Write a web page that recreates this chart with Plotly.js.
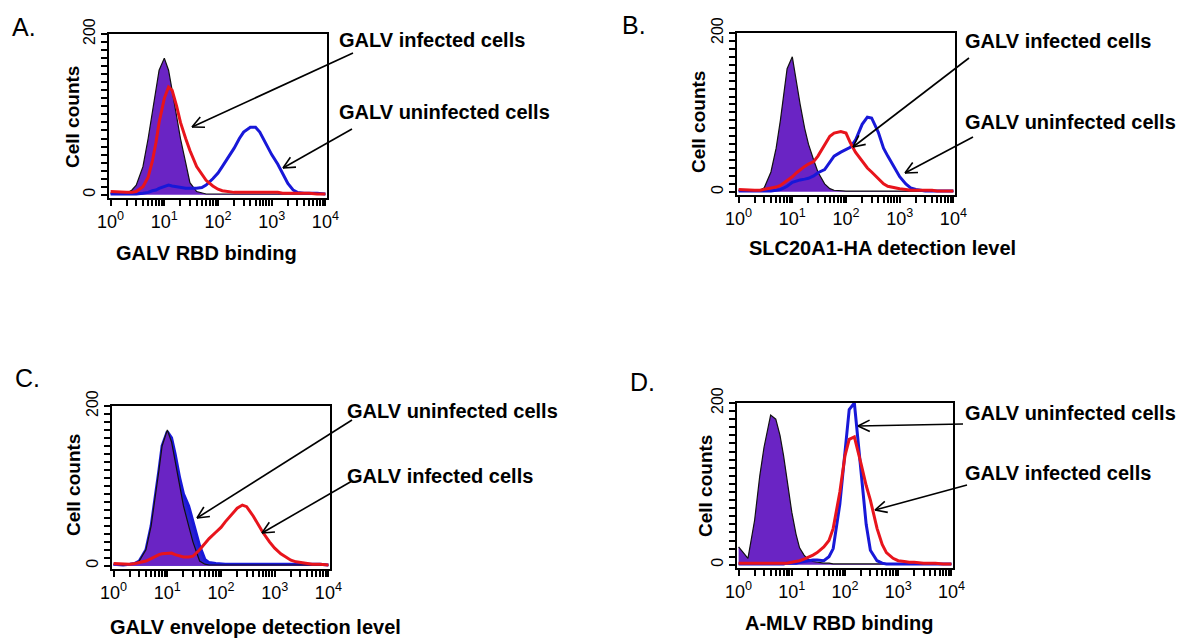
<!DOCTYPE html>
<html>
<head>
<meta charset="utf-8">
<script src="https://cdn.plot.ly/plotly-3.0.1.min.js"></script>
<style>
  html, body { margin: 0; padding: 0; background: #fff; }
  #chart { width: 1200px; height: 643px; }
</style>
</head>
<body>
<div id="chart"></div>
<script>
// fluorescence channel (x) for every histogram
const bins = [1, 1.5, 2, 2.5, 3, 4, 5, 6, 7, 8, 10, 12, 14, 17, 20, 25, 30, 40, 50, 60,
  80, 100, 120, 150, 200, 250, 300, 400, 500, 600, 800, 1000, 1300, 1600, 2000,
  2500, 3000, 4000, 5000, 7000, 10000];

// A. GALV RBD binding
const aControl = [2, 1, 2, 6, 12, 35, 70, 105, 135, 155, 170, 155, 130, 95, 70, 40, 15, 4, 2, 1,
  1, 1, 1, 1, 1, 1, 1, 1, 1, 1, 1, 1, 1, 1, 1, 1, 1, 1, 1, 1, 1];
const aUninfected = [1, 1, 1, 1, 1, 2, 3, 5, 6, 8, 10, 12, 11, 10, 9, 8, 8, 8, 9, 12,
  20, 27, 35, 45, 58, 70, 78, 84, 84, 78, 62, 50, 38, 26, 14, 6, 3, 2, 2, 2, 1];
const aInfected = [4, 3, 3, 3, 4, 10, 22, 42, 65, 90, 120, 134, 130, 110, 90, 70, 55, 35, 26, 18,
  11, 7, 5, 4, 3, 3, 3, 3, 3, 3, 3, 3, 3, 2, 2, 2, 2, 2, 2, 1, 1];

// B. SLC20A1-HA detection level
const bControl = [2, 1, 1, 2, 5, 25, 55, 90, 125, 155, 170, 135, 110, 80, 60, 40, 25, 10, 4, 2,
  1, 1, 1, 1, 1, 1, 1, 1, 1, 1, 1, 1, 1, 1, 1, 1, 1, 1, 1, 1, 1];
const bUninfected = [1, 1, 1, 1, 1, 1, 2, 3, 5, 7, 12, 14, 15, 16, 17, 20, 24, 28, 38, 45,
  50, 53, 56, 65, 85, 94, 93, 75, 55, 45, 30, 19, 10, 5, 3, 2, 1, 1, 1, 1, 1];
const bInfected = [3, 2, 2, 2, 3, 4, 6, 8, 11, 14, 19, 24, 28, 32, 35, 38, 45, 60, 70, 74,
  76, 74, 62, 50, 38, 30, 25, 16, 10, 7, 5, 4, 3, 2, 2, 2, 2, 2, 1, 1, 1];

// C. GALV envelope detection level
const cControl = [2, 1, 2, 3, 6, 20, 50, 85, 120, 150, 170, 155, 130, 100, 75, 50, 30, 6, 2, 1,
  1, 1, 1, 1, 1, 1, 1, 1, 1, 1, 1, 1, 1, 1, 1, 1, 1, 1, 1, 1, 1];
const cUninfected = [2, 1, 2, 3, 6, 20, 50, 85, 120, 150, 168, 160, 140, 110, 90, 75, 55, 25, 8, 4,
  3, 2, 2, 2, 2, 2, 2, 2, 2, 2, 2, 2, 2, 2, 2, 2, 2, 2, 2, 2, 1];
const cInfected = [3, 2, 2, 3, 4, 6, 9, 12, 14, 15, 16, 16, 14, 12, 11, 11, 12, 20, 28, 34,
  42, 48, 55, 63, 72, 76, 74, 62, 50, 42, 30, 22, 15, 11, 7, 5, 4, 3, 2, 2, 1];

// D. A-MLV RBD binding
const dControl = [22, 8, 55, 110, 145, 185, 180, 160, 135, 110, 65, 38, 21, 12, 7, 4, 3, 2, 2, 1,
  1, 1, 1, 1, 1, 1, 1, 1, 1, 1, 1, 1, 1, 1, 1, 1, 1, 1, 1, 1, 1];
const dUninfected = [1, 1, 1, 1, 1, 1, 1, 1, 1, 2, 2, 2, 3, 4, 5, 6, 6, 5, 10, 20,
  75, 140, 192, 200, 115, 50, 18, 5, 2, 1, 1, 1, 1, 1, 1, 1, 1, 1, 1, 1, 1];
const dInfected = [2, 2, 2, 2, 2, 2, 2, 2, 2, 2, 3, 4, 5, 7, 9, 12, 15, 22, 30, 45,
  90, 135, 155, 158, 125, 98, 80, 45, 25, 15, 8, 5, 4, 3, 3, 2, 2, 2, 2, 1, 1];

// axis ticks: labelled decades plus unlabelled 2..9 marks; counts every 10
const xTickVals = [];
const xTickText = [];
[1, 10, 100, 1000, 10000].forEach((d, e) => {
  xTickVals.push(d);
  xTickText.push("10<sup>" + e + "</sup>");
  if (d < 10000) for (let k = 2; k <= 9; k++) { xTickVals.push(k * d); xTickText.push(""); }
});
const yTickVals = [];
const yTickText = [];
for (let v = 0; v <= 200; v += 10) { yTickVals.push(v); yTickText.push(v === 0 || v === 200 ? String(v) : ""); }

const FONT = "Liberation Sans, Arial, sans-serif";
const PURPLE = "#6a24c4";
const BLUE = "#1818d8";
const RED = "#e8141c";
const W = 1200, H = 643;

// panels: box in pixels (left, right, top, bottom)
const panels = [
  { box: [109, 327, 34, 198], control: aControl, uninf: aUninfected, inf: aInfected },
  { box: [737, 955, 33, 195], control: bControl, uninf: bUninfected, inf: bInfected },
  { box: [112, 330, 406, 569], control: cControl, uninf: cUninfected, inf: cInfected, blueFill: true },
  { box: [737, 953, 403, 568], control: dControl, uninf: dUninfected, inf: dInfected },
];

const traces = [];
const layout = {
  width: W, height: H,
  margin: { l: 0, r: 0, t: 0, b: 0 },
  paper_bgcolor: "#fff", plot_bgcolor: "#fff",
  showlegend: false,
  font: { family: FONT, color: "#000" },
  annotations: [], shapes: [],
};

panels.forEach((p, i) => {
  const n = i + 1;
  const xa = n === 1 ? "x" : "x" + n;
  const ya = n === 1 ? "y" : "y" + n;

  const fillBlue = {
    x: bins, y: p.uninf, xaxis: xa, yaxis: ya, type: "scatter", mode: "lines",
    line: { color: BLUE, width: 3 }, fill: "tozeroy", fillcolor: "#2a20d0",
  };
  const purple = {
    x: bins, y: p.control, xaxis: xa, yaxis: ya, type: "scatter", mode: "lines",
    line: { color: "#111", width: 1.2 }, fill: "tozeroy", fillcolor: PURPLE,
  };
  const blue = {
    x: bins, y: p.uninf, xaxis: xa, yaxis: ya, type: "scatter", mode: "lines",
    line: { color: BLUE, width: 3 },
  };
  const red = {
    x: bins, y: p.inf, xaxis: xa, yaxis: ya, type: "scatter", mode: "lines",
    line: { color: RED, width: 3 },
  };
  if (p.blueFill) traces.push(fillBlue, purple, red);
  else traces.push(purple, blue, red);

  const [l, r, t, b] = p.box;
  layout["xaxis" + (n === 1 ? "" : n)] = {
    type: "log", range: [-0.03, 4.03], domain: [l / W, r / W], anchor: ya,
    tickmode: "array", tickvals: xTickVals, ticktext: xTickText,
    ticks: "outside", ticklen: 6, tickwidth: 2, tickcolor: "#000",
    showline: true, linewidth: 2, linecolor: "#000", mirror: true,
    showgrid: false, zeroline: false,
    tickfont: { family: FONT, size: 18, color: "#000" },
  };
  layout["yaxis" + (n === 1 ? "" : n)] = {
    range: [-4, 200], domain: [1 - b / H, 1 - t / H], anchor: xa,
    tickmode: "array", tickvals: yTickVals, ticktext: yTickText, tickangle: -90,
    ticks: "outside", ticklen: 6, tickwidth: 2, tickcolor: "#000",
    showline: true, linewidth: 2, linecolor: "#000", mirror: true,
    showgrid: false, zeroline: false,
    tickfont: { family: FONT, size: 16, color: "#000" },
  };
});

// text in pixel positions
function txt(text, x, y, opts) {
  layout.annotations.push(Object.assign({
    text, x: x / W, y: 1 - y / H, xref: "paper", yref: "paper",
    showarrow: false, xanchor: "left", yanchor: "middle",
    font: { family: FONT, size: 20, color: "#000", weight: "bold" },
  }, opts || {}));
}
function label(text, x, y) {
  txt(text, x, y, { font: { family: FONT, size: 25, color: "#000" } });
}
function ylab(x, y) {
  txt("Cell counts", x, y, { xanchor: "center", textangle: -90, font: { family: FONT, size: 19, color: "#000", weight: "bold" } });
}
function xlab(text, x, y) {
  txt(text, x, y, { xanchor: "center" });
}
// arrow with an open V head, pixel coords
function arrow(tx, ty, hx, hy) {
  const line = (x0, y0, x1, y1) => layout.shapes.push({
    type: "line", xref: "paper", yref: "paper",
    x0: x0 / W, y0: 1 - y0 / H, x1: x1 / W, y1: 1 - y1 / H,
    line: { color: "#000", width: 1.6 },
  });
  line(tx, ty, hx, hy);
  const a = Math.atan2(ty - hy, tx - hx);
  [0.45, -0.45].forEach((d) => {
    line(hx, hy, hx + 13 * Math.cos(a + d), hy + 13 * Math.sin(a + d));
  });
}

label("A.", 10, 27);
label("B.", 620, 25);
label("C.", 13, 378);
label("D.", 628, 382);

ylab(72, 117); ylab(698, 122); ylab(73, 485); ylab(705, 486);
xlab("GALV RBD binding", 206, 253);
xlab("SLC20A1-HA detection level", 882, 248);
xlab("GALV envelope detection level", 255, 627);
xlab("A-MLV RBD binding", 839, 623);

txt("GALV infected cells", 337, 40);
txt("GALV uninfected cells", 337, 112);
arrow(353, 53, 192, 127);
arrow(352, 129, 283, 168);

txt("GALV infected cells", 963, 41);
txt("GALV uninfected cells", 963, 122);
arrow(969, 58, 853, 147);
arrow(973, 137, 905, 173);

txt("GALV uninfected cells", 345, 411);
txt("GALV infected cells", 345, 476);
arrow(352, 420, 197, 518);
arrow(352, 481, 262, 533);

txt("GALV uninfected cells", 963, 413);
txt("GALV infected cells", 963, 473);
arrow(963, 424, 858, 426);
arrow(967, 485, 875, 510);

Plotly.newPlot("chart", traces, layout, { staticPlot: true });
</script>
</body>
</html>
